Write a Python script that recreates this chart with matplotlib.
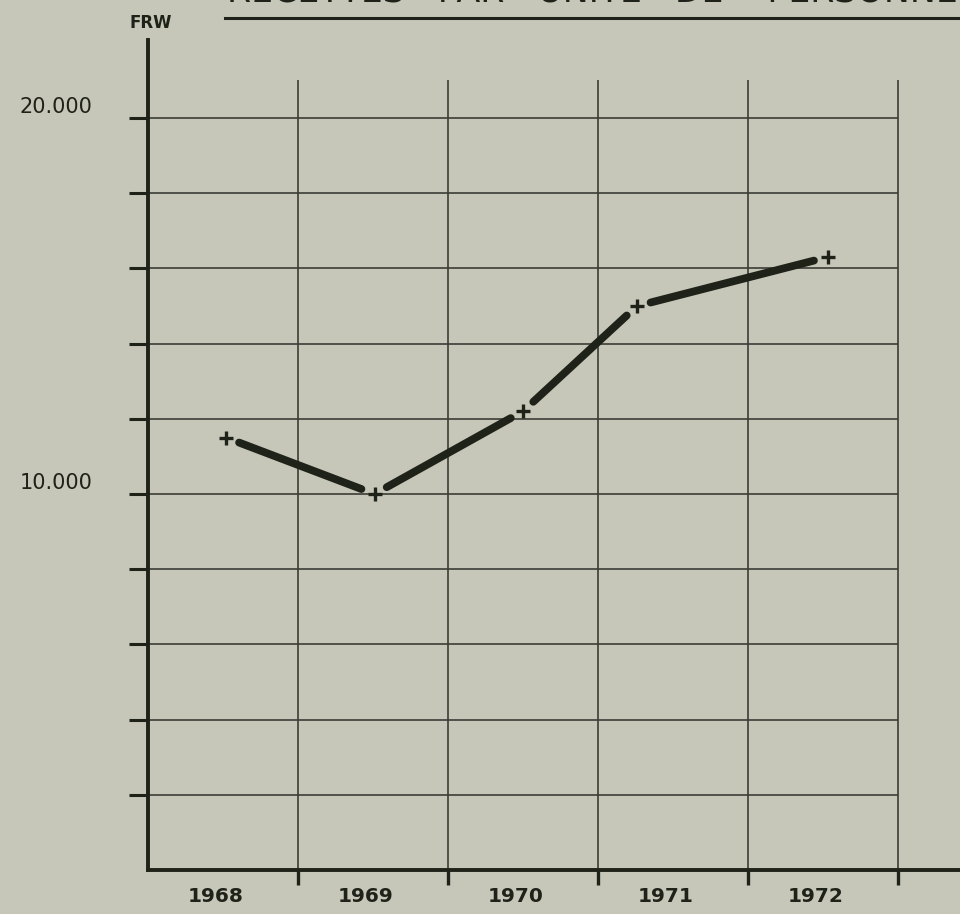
import numpy as np
import matplotlib
matplotlib.use('Agg')
import matplotlib.pyplot as plt
from matplotlib.lines import Line2D

# data
years = [1968, 1969, 1970, 1971, 1972]
x_pos = [1968.52, 1969.51, 1970.50, 1971.26, 1972.53]   # where each mark sits inside its year
recettes = [11500, 10000, 12200, 15000, 16300]
grid_y = [2000, 4000, 6000, 8000, 10000, 12000, 14000, 16000, 18000, 20000]
labelled_y = [10000, 20000]
labelled_txt = ['10.000', '20.000']

paper = '#c6c7b9'
ink = '#1f2219'
grid_col = '#3b3e37'

W, H = 960, 914
fig = plt.figure(figsize=(W / 100, H / 100), dpi=100, facecolor=paper)

# axes box in pixels: left 148, right 960, top 40, bottom 870
ax = fig.add_axes([148 / W, 1 - 870 / H, (960 - 148) / W, (870 - 40) / H])
ax.set_facecolor(paper)
ax.set_xlim(1968, 1968 + (960 - 148) / 150)
ax.set_ylim(0, (870 - 40) / 37.6 * 1000)

# grid
ax.hlines(grid_y, 1968, 1973, colors=grid_col, lw=1.2, zorder=1)
ax.vlines(years[1:] + [1973], 0, 21000, colors=grid_col, lw=1.2, zorder=1)

# spines
for s in ['top', 'right']:
    ax.spines[s].set_visible(False)
for s in ['left', 'bottom']:
    ax.spines[s].set_linewidth(2.8)
    ax.spines[s].set_color(ink)

ax.set_yticks(grid_y)
ax.set_yticklabels([])
ax.tick_params(axis='y', direction='out', length=14, width=2.2, color=ink)
ax.set_xticks(years[1:] + [1973])
ax.set_xticklabels([])
ax.tick_params(axis='x', which='major', direction='out', length=11, width=2.4, color=ink)
ax.set_xticks([y + 0.45 for y in years], minor=True)
ax.set_xticklabels([str(y) for y in years], minor=True)
ax.tick_params(axis='x', which='minor', length=0, pad=12, labelsize=14.5, labelcolor=ink)
for t in ax.get_xticklabels(minor=True):
    t.set_fontweight('bold')

for v, t in zip(labelled_y, labelled_txt):
    ax.annotate(t, xy=(0, v), xycoords=('axes fraction', 'data'),
                xytext=(-40, 8), textcoords='offset points',
                ha='right', va='center', fontsize=15, color=ink)

# thick segments, stopped short of each mark
pts = ax.transData.transform(np.column_stack([x_pos, recettes]))
gap = 14
for i in range(len(pts) - 1):
    a, b = pts[i], pts[i + 1]
    d = (b - a) / np.hypot(*(b - a))
    seg = ax.transData.inverted().transform(np.array([a + d * gap, b - d * gap]))
    ax.plot(seg[:, 0], seg[:, 1], color=ink, lw=5.6, solid_capstyle='round', zorder=3)

ax.plot(x_pos, recettes, ls='none', marker='+', ms=10, mew=2.4, color=ink, zorder=4)

fig.text(151 / W, 1 - 23 / H, 'FRW', ha='center', va='center',
         fontsize=12, fontweight='bold', color=ink)

fig.text(227 / W, 1 - 2 / H, 'RECETTES   PAR   UNITE   DE    PERSONNEL',
         ha='left', va='baseline', fontsize=25, color=ink)
fig.add_artist(Line2D([225 / W, 1], [1 - 18 / H, 1 - 18 / H], color=ink, lw=2.2))

fig.savefig('out.png', dpi=100, facecolor=paper)
